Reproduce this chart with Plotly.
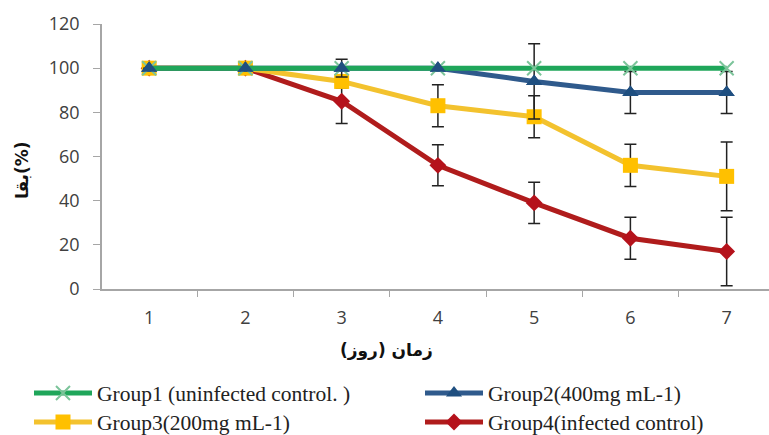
import plotly.graph_objects as go

days = ["1", "2", "3", "4", "5", "6", "7"]

names = [
    "Group1 (uninfected control. )",
    "Group2(400mg mL-1)",
    "Group3(200mg mL-1)",
    "Group4(infected control)",
]

g1 = [100, 100, 100, 100, 100, 100, 100]
g2 = [100, 100, 100, 100, 94, 89, 89]
g3 = [100, 100, 94, 83, 78, 56, 51]
g4 = [100, 100, 85, 56, 39, 23, 17]

g1_err = [None, None, None, None, None, None, None]
g2_err = [None, None, 4, None, 17, 9.5, 9.5]
g3_err = [None, None, 3, 9.5, 9.5, 9.6, 15.6]
g4_err = [None, None, 10, 9.3, 9.3, 9.5, 15.5]

line_colors = ["#1fa65a", "#2f5a8c", "#f3c22e", "#b01c1c"]
marker_colors = ["#7cc49a", "#1f4f80", "#ffc000", "#b5121b"]
symbols = ["x-thin", "triangle-up", "square", "diamond"]
sizes = [14, 14, 15, 13]
legend_ids = ["legend", "legend2", "legend3", "legend4"]
legend_pos = [(29, 393), (420, 393), (29, 422), (420, 422)]

series = [g1, g2, g3, g4]
errors = [g1_err, g2_err, g3_err, g4_err]


def marker_for(i):
    m = dict(symbol=symbols[i], size=sizes[i], color=marker_colors[i])
    if symbols[i] == "x-thin":
        m["line"] = dict(color=marker_colors[i], width=2)
    return m


fig = go.Figure()
# draw order: Group4, Group3, Group2, Group1 line on top, then Group2 markers over it
for i in [3, 2, 1, 0]:
    errs = errors[i]
    has_err = any(e is not None for e in errs)
    fig.add_trace(go.Scatter(
        x=days, y=series[i], name=names[i], mode="lines+markers",
        line=dict(color=line_colors[i], width=5),
        marker=marker_for(i),
        error_y=dict(type="data", array=errs, visible=has_err,
                     color="#222222", thickness=1.5, width=6),
        legend=legend_ids[i],
    ))
fig.add_trace(go.Scatter(
    x=days, y=g2, mode="markers", marker=marker_for(1),
    showlegend=False, hoverinfo="skip",
))

axis_gray = "#a6a6a6"
legend_font = dict(family="Liberation Serif", size=21.5, color="#222222")
layout_legends = {}
for lid, (lx, ly) in zip(legend_ids, legend_pos):
    layout_legends[lid] = dict(
        orientation="h", xref="container", yref="container",
        x=lx / 769, y=1 - ly / 435, xanchor="left", yanchor="middle",
        itemwidth=58, bgcolor="rgba(0,0,0,0)", font=legend_font,
    )

fig.update_layout(
    width=769, height=435,
    margin=dict(l=102, r=0, t=24, b=146),
    paper_bgcolor="white", plot_bgcolor="white",
    font=dict(family="Open Sans", color="#404040"),
    xaxis=dict(
        type="category", range=[-0.49, 6.44], tickson="boundaries",
        ticks="outside", ticklen=6, tickcolor=axis_gray,
        showline=True, linecolor=axis_gray, linewidth=1.5,
        showgrid=False, zeroline=False,
        tickfont=dict(family="Open Sans", size=18, color="#404040"),
        ticklabelstandoff=12,
    ),
    yaxis=dict(
        range=[0, 120], dtick=20, ticks="outside", ticklen=7, tickcolor=axis_gray,
        showline=True, linecolor=axis_gray, linewidth=1.5,
        showgrid=False, zeroline=False,
        tickfont=dict(family="Open Sans", size=18, color="#404040"),
        ticklabelstandoff=10,
    ),
    annotations=[
        dict(text="<b>زمان (روز)</b>", xref="paper", yref="paper",
             x=(386 - 102) / 667, y=-(350 - 289) / 265, xanchor="center", yanchor="middle",
             showarrow=False, font=dict(family="DejaVu Sans", size=17, color="#111111")),
        dict(text="<b>بقا(%)</b>", xref="paper", yref="paper",
             x=-(102 - 22) / 667, y=(289 - 170) / 265, xanchor="center", yanchor="middle",
             textangle=-90, showarrow=False,
             font=dict(family="DejaVu Sans", size=17, color="#111111")),
    ],
    **layout_legends,
)

fig.write_html("out.html")
